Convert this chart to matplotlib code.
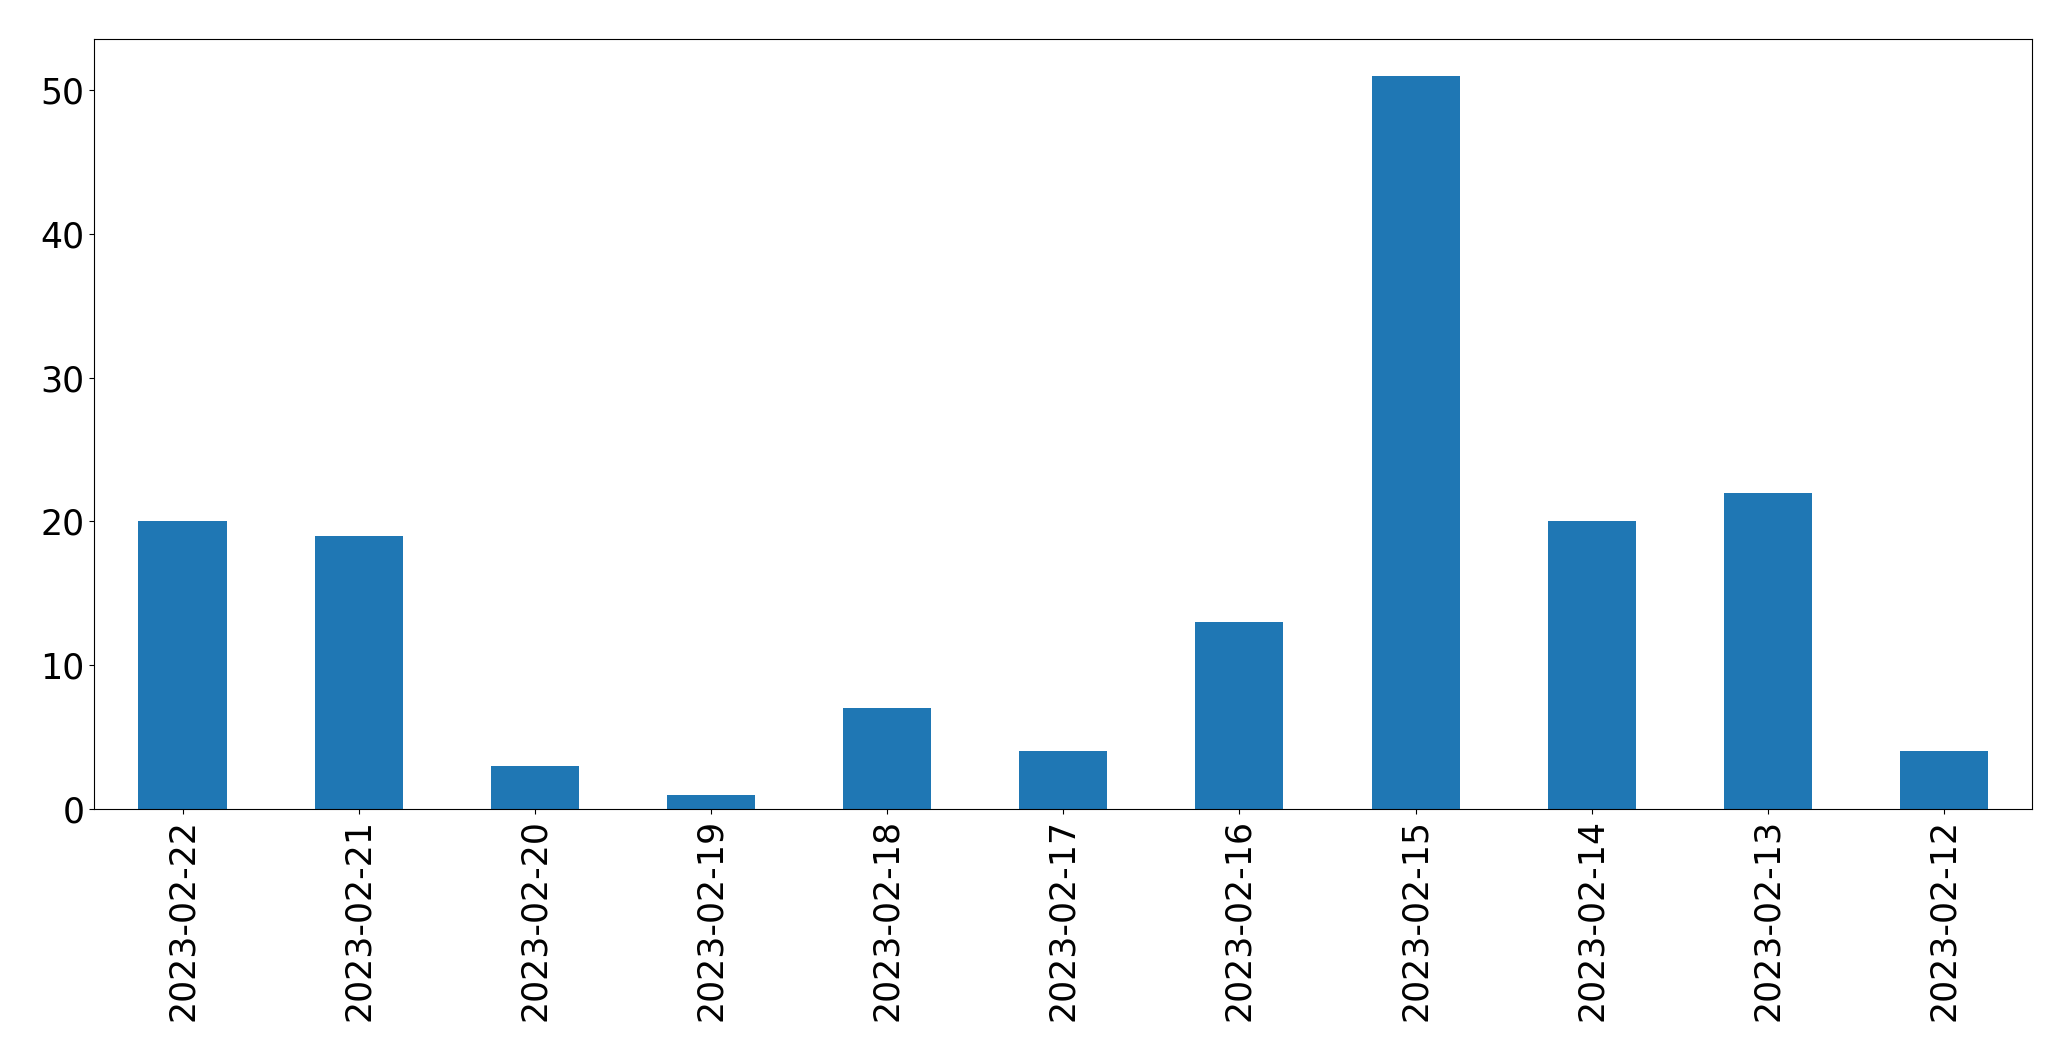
import numpy as np
import pandas as pd
import matplotlib
matplotlib.use("Agg")
import matplotlib.pyplot as plt

# 데이터
DATES = ["2023-02-22", "2023-02-21", "2023-02-20", "2023-02-19", "2023-02-18",
         "2023-02-17", "2023-02-16", "2023-02-15", "2023-02-14", "2023-02-13",
         "2023-02-12"]
COUNTS = [20, 19, 3, 1, 7, 4, 13, 51, 20, 22, 4]

FONT_SIZE = 25

s = pd.Series(COUNTS, index=DATES)

fig = plt.figure(figsize=(20.71, 10.61), dpi=100)
ax = fig.add_axes([0.0456, 0.2375, 0.9356, 0.7257])
s.plot(kind="bar", ax=ax, color="#1f77b4", width=0.5)

ax.tick_params(axis="both", labelsize=FONT_SIZE)
plt.setp(ax.get_xticklabels(), rotation=90)

fig.savefig("out.png", dpi=100)
plt.close(fig)
